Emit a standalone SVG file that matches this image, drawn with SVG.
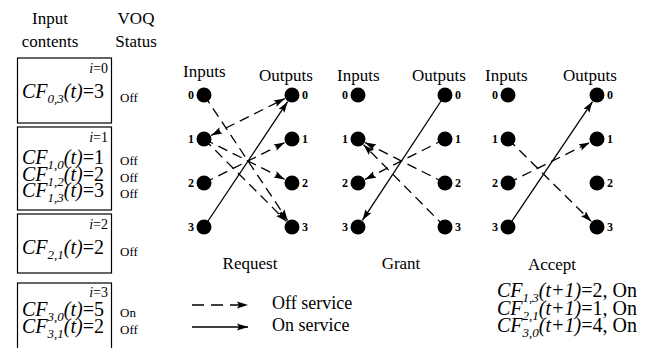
<svg xmlns="http://www.w3.org/2000/svg" width="651" height="348" viewBox="0 0 651 348">
<defs>
<marker id="ah" markerUnits="userSpaceOnUse" markerWidth="12" markerHeight="8" refX="11" refY="4" orient="auto-start-reverse">
<path d="M0,0.5 L11,4 L0,7.5 L2,4 z" fill="#000"/>
</marker>
</defs>

<g id="headers" font-size="17">
<text font-family="Liberation Serif" font-size="17" x="50" y="24" text-anchor="middle">Input</text>
<text font-family="Liberation Serif" font-size="17" x="50" y="47" text-anchor="middle">contents</text>
<text font-family="Liberation Serif" font-size="17" x="136" y="24" text-anchor="middle">VOQ</text>
<text font-family="Liberation Serif" font-size="17" x="136" y="47" text-anchor="middle">Status</text>
</g>

<g id="input0">
<rect x="17.5" y="58" width="94" height="65" fill="none" stroke="#000" stroke-width="1.2"/>
<text font-family="Liberation Serif" font-size="14" x="108" y="73" text-anchor="end"><tspan font-style="italic">i</tspan>=0</text>
<text font-family="Liberation Serif" font-size="20" x="22" y="98"><tspan font-style="italic">CF<tspan font-size="13" dy="5">0,3</tspan><tspan dy="-5">(t)</tspan></tspan>=3</text>
<text font-family="Liberation Serif" font-size="13" x="120" y="102">Off</text>
</g>

<g id="input1">
<rect x="17.5" y="127" width="94" height="83" fill="none" stroke="#000" stroke-width="1.2"/>
<text font-family="Liberation Serif" font-size="14" x="108" y="142" text-anchor="end"><tspan font-style="italic">i</tspan>=1</text>
<text font-family="Liberation Serif" font-size="20" x="22" y="164"><tspan font-style="italic">CF<tspan font-size="13" dy="5">1,0</tspan><tspan dy="-5">(t)</tspan></tspan>=1</text>
<text font-family="Liberation Serif" font-size="20" x="22" y="181"><tspan font-style="italic">CF<tspan font-size="13" dy="5">1,2</tspan><tspan dy="-5">(t)</tspan></tspan>=2</text>
<text font-family="Liberation Serif" font-size="20" x="22" y="197"><tspan font-style="italic">CF<tspan font-size="13" dy="5">1,3</tspan><tspan dy="-5">(t)</tspan></tspan>=3</text>
<text font-family="Liberation Serif" font-size="13" x="120" y="165">Off</text>
<text font-family="Liberation Serif" font-size="13" x="120" y="182">Off</text>
<text font-family="Liberation Serif" font-size="13" x="120" y="198">Off</text>
</g>

<g id="input2">
<rect x="17.5" y="214" width="94" height="59" fill="none" stroke="#000" stroke-width="1.2"/>
<text font-family="Liberation Serif" font-size="14" x="108" y="229" text-anchor="end"><tspan font-style="italic">i</tspan>=2</text>
<text font-family="Liberation Serif" font-size="20" x="22" y="254"><tspan font-style="italic">CF<tspan font-size="13" dy="5">2,1</tspan><tspan dy="-5">(t)</tspan></tspan>=2</text>
<text font-family="Liberation Serif" font-size="13" x="120" y="256">Off</text>
</g>

<g id="input3">
<rect x="17.5" y="283" width="94" height="70" fill="none" stroke="#000" stroke-width="1.2"/>
<text font-family="Liberation Serif" font-size="14" x="108" y="297" text-anchor="end"><tspan font-style="italic">i</tspan>=3</text>
<text font-family="Liberation Serif" font-size="20" x="22" y="316"><tspan font-style="italic">CF<tspan font-size="13" dy="5">3,0</tspan><tspan dy="-5">(t)</tspan></tspan>=5</text>
<text font-family="Liberation Serif" font-size="20" x="22" y="333"><tspan font-style="italic">CF<tspan font-size="13" dy="5">3,1</tspan><tspan dy="-5">(t)</tspan></tspan>=2</text>
<text font-family="Liberation Serif" font-size="13" x="120" y="317">On</text>
<text font-family="Liberation Serif" font-size="13" x="120" y="334">Off</text>
</g>

<g id="connectors" stroke="#000" stroke-width="1.3" fill="none" marker-end="url(#ah)">
<g stroke-dasharray="10 6">
<line x1="204" y1="95" x2="287.6" y2="220.3"/>
<line x1="211.2" y1="135.4" x2="284.8" y2="98.6" marker-start="url(#ah)"/>
<line x1="204" y1="139" x2="284.8" y2="179.4"/>
<line x1="204" y1="139" x2="286.3" y2="221.3"/>
<line x1="204" y1="183" x2="284.8" y2="142.6"/>
<line x1="445" y1="139" x2="365.1" y2="179.4"/>
<line x1="445" y1="183" x2="365.1" y2="142.6"/>
<line x1="445" y1="227" x2="363.6" y2="144.7"/>
<line x1="508" y1="183" x2="589.8" y2="142.5"/>
<line x1="508" y1="139" x2="591.3" y2="221.4"/>
<line x1="192" y1="305" x2="248" y2="305" stroke-dasharray="12 7"/>
</g>
<line x1="204" y1="227" x2="287.6" y2="101.7"/>
<line x1="445" y1="95" x2="362.4" y2="220.3"/>
<line x1="508" y1="227" x2="592.5" y2="101.6"/>
<line x1="192" y1="327" x2="248" y2="327"/>
</g>

<g id="request">
<text font-family="Liberation Serif" font-size="17" x="183" y="77">Inputs</text>
<text font-family="Liberation Serif" font-size="17" x="259" y="81">Outputs</text>
<g fill="#000">
<circle cx="204" cy="95" r="7.5"/><circle cx="204" cy="139" r="7.5"/><circle cx="204" cy="183" r="7.5"/><circle cx="204" cy="227" r="7.5"/>
<circle cx="292" cy="95" r="7.5"/><circle cx="292" cy="139" r="7.5"/><circle cx="292" cy="183" r="7.5"/><circle cx="292" cy="227" r="7.5"/>
</g>
<text font-family="Liberation Serif" font-size="12" font-weight="bold" x="194" y="99" text-anchor="end">0</text>
<text font-family="Liberation Serif" font-size="12" font-weight="bold" x="194" y="143" text-anchor="end">1</text>
<text font-family="Liberation Serif" font-size="12" font-weight="bold" x="194" y="187" text-anchor="end">2</text>
<text font-family="Liberation Serif" font-size="12" font-weight="bold" x="194" y="231" text-anchor="end">3</text>
<text font-family="Liberation Serif" font-size="12" font-weight="bold" x="302" y="99">0</text>
<text font-family="Liberation Serif" font-size="12" font-weight="bold" x="302" y="143">1</text>
<text font-family="Liberation Serif" font-size="12" font-weight="bold" x="302" y="187">2</text>
<text font-family="Liberation Serif" font-size="12" font-weight="bold" x="302" y="231">3</text>
<text font-family="Liberation Serif" font-size="17" x="250" y="269" text-anchor="middle">Request</text>
</g>

<g id="grant">
<text font-family="Liberation Serif" font-size="17" x="337" y="81">Inputs</text>
<text font-family="Liberation Serif" font-size="17" x="412" y="81">Outputs</text>
<g fill="#000">
<circle cx="358" cy="95" r="7.5"/><circle cx="358" cy="139" r="7.5"/><circle cx="358" cy="183" r="7.5"/><circle cx="358" cy="227" r="7.5"/>
<circle cx="445" cy="95" r="7.5"/><circle cx="445" cy="139" r="7.5"/><circle cx="445" cy="183" r="7.5"/><circle cx="445" cy="227" r="7.5"/>
</g>
<text font-family="Liberation Serif" font-size="12" font-weight="bold" x="348" y="99" text-anchor="end">0</text>
<text font-family="Liberation Serif" font-size="12" font-weight="bold" x="348" y="143" text-anchor="end">1</text>
<text font-family="Liberation Serif" font-size="12" font-weight="bold" x="348" y="187" text-anchor="end">2</text>
<text font-family="Liberation Serif" font-size="12" font-weight="bold" x="348" y="231" text-anchor="end">3</text>
<text font-family="Liberation Serif" font-size="12" font-weight="bold" x="455" y="99">0</text>
<text font-family="Liberation Serif" font-size="12" font-weight="bold" x="455" y="143">1</text>
<text font-family="Liberation Serif" font-size="12" font-weight="bold" x="455" y="187">2</text>
<text font-family="Liberation Serif" font-size="12" font-weight="bold" x="455" y="231">3</text>
<text font-family="Liberation Serif" font-size="17" x="401" y="269" text-anchor="middle">Grant</text>
</g>

<g id="accept">
<text font-family="Liberation Serif" font-size="17" x="485" y="81">Inputs</text>
<text font-family="Liberation Serif" font-size="17" x="563" y="81">Outputs</text>
<g fill="#000">
<circle cx="508" cy="95" r="7.5"/><circle cx="508" cy="139" r="7.5"/><circle cx="508" cy="183" r="7.5"/><circle cx="508" cy="227" r="7.5"/>
<circle cx="597" cy="95" r="7.5"/><circle cx="597" cy="139" r="7.5"/><circle cx="597" cy="183" r="7.5"/><circle cx="597" cy="227" r="7.5"/>
</g>
<text font-family="Liberation Serif" font-size="12" font-weight="bold" x="498" y="99" text-anchor="end">0</text>
<text font-family="Liberation Serif" font-size="12" font-weight="bold" x="498" y="143" text-anchor="end">1</text>
<text font-family="Liberation Serif" font-size="12" font-weight="bold" x="498" y="187" text-anchor="end">2</text>
<text font-family="Liberation Serif" font-size="12" font-weight="bold" x="498" y="231" text-anchor="end">3</text>
<text font-family="Liberation Serif" font-size="12" font-weight="bold" x="607" y="99">0</text>
<text font-family="Liberation Serif" font-size="12" font-weight="bold" x="607" y="143">1</text>
<text font-family="Liberation Serif" font-size="12" font-weight="bold" x="607" y="187">2</text>
<text font-family="Liberation Serif" font-size="12" font-weight="bold" x="607" y="231">3</text>
<text font-family="Liberation Serif" font-size="17" x="552" y="270" text-anchor="middle">Accept</text>
</g>

<g id="legend">
<text font-family="Liberation Serif" font-size="18" x="272" y="309">Off service</text>
<text font-family="Liberation Serif" font-size="18" x="272" y="331">On service</text>
</g>

<g id="result">
<text font-family="Liberation Serif" font-size="20" x="497" y="297"><tspan font-style="italic">CF<tspan font-size="13" dy="5">1,3</tspan><tspan dy="-5">(t+1)</tspan></tspan>=2, On</text>
<text font-family="Liberation Serif" font-size="20" x="497" y="315"><tspan font-style="italic">CF<tspan font-size="13" dy="5">2,1</tspan><tspan dy="-5">(t+1)</tspan></tspan>=1, On</text>
<text font-family="Liberation Serif" font-size="20" x="497" y="332"><tspan font-style="italic">CF<tspan font-size="13" dy="5">3,0</tspan><tspan dy="-5">(t+1)</tspan></tspan>=4, On</text>
</g>
</svg>
